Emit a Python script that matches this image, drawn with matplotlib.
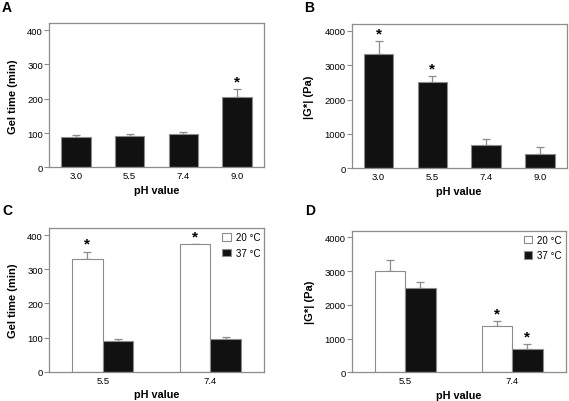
import matplotlib
matplotlib.use("Agg")
import matplotlib.pyplot as plt
from matplotlib.patches import Patch
import numpy as np

plt.rcParams['font.family'] = ['Liberation Sans', 'DejaVu Sans']

# Data
ph_ab = ["3.0", "5.5", "7.4", "9.0"]
gel_time_a = [87, 90, 96, 206]
gel_time_a_err = [8, 8, 7, 22]
sig_a = [False, False, False, True]

gstar_b = [3320, 2510, 680, 410]
gstar_b_err = [380, 180, 170, 220]
sig_b = [True, True, False, False]

ph_cd = ["5.5", "7.4"]
legend_labels = ["20 °C", "37 °C"]
gel_time_c_20 = [330, 373]
gel_time_c_20_err = [22, 2]
gel_time_c_37 = [90, 96]
gel_time_c_37_err = [7, 7]
sig_c_20 = [True, True]
sig_c_37 = [False, False]

gstar_d_20 = [3000, 1370]
gstar_d_20_err = [330, 140]
gstar_d_37 = [2510, 680]
gstar_d_37_err = [180, 170]
sig_d_20 = [False, True]
sig_d_37 = [False, True]

GREY = "#8c8c8c"
BLACK = "#111111"

fig = plt.figure(figsize=(5.69, 4.02), dpi=100)

def style(ax, ylim, yticks, ylabel, lx):
    for s in ax.spines.values():
        s.set_color(GREY)
        s.set_linewidth(0.9)
    ax.set_ylim(0, ylim)
    ax.set_yticks(yticks)
    ax.tick_params(axis='y', length=3.5, width=0.8, color=GREY, labelsize=6.8, pad=0.8)
    ax.tick_params(axis='x', length=0, labelsize=6.8, pad=3)
    ax.set_ylabel(ylabel, fontsize=8, fontweight='bold')
    ax.yaxis.set_label_coords(lx, 0.5)
    ax.set_xlabel("pH value", fontsize=7.8, fontweight='bold', labelpad=3)

def bars(ax, x, vals, errs, sig, face, w, off):
    ax.bar(x, vals, width=w, color=face, edgecolor=GREY, linewidth=0.8, zorder=2)
    ax.errorbar(x, vals, yerr=[np.zeros(len(vals)), errs], fmt='none',
                ecolor=GREY, elinewidth=0.9, capsize=3.2, capthick=0.9, zorder=1)
    for xi, v, e, s in zip(x, vals, errs, sig):
        if s:
            ax.text(xi, v + e + off, "*", ha='center', va='bottom',
                    fontsize=11, fontweight='bold')

# Panel A
axA = fig.add_axes([0.0861, 0.5813, 0.378, 0.3583])
xa = np.arange(len(ph_ab))
bars(axA, xa, gel_time_a, gel_time_a_err, sig_a, BLACK, 0.55, 2)
axA.set_xlim(-0.5, 3.5)
axA.set_xticks(xa, ph_ab)
style(axA, 420, [0, 100, 200, 300, 400], "Gel time (min)", -0.146)

# Panel B
axB = fig.add_axes([0.618, 0.5789, 0.378, 0.3589])
bars(axB, xa, gstar_b, gstar_b_err, sig_b, BLACK, 0.55, 20)
axB.set_xlim(-0.5, 3.5)
axB.set_xticks(xa, ph_ab)
style(axB, 4200, [0, 1000, 2000, 3000, 4000], "|G*| (Pa)", -0.173)

# Panel C
w = 0.285
axC = fig.add_axes([0.0861, 0.0729, 0.378, 0.3567])
xc = np.arange(len(ph_cd))
bars(axC, xc - w / 2, gel_time_c_20, gel_time_c_20_err, sig_c_20, 'white', w, 2)
bars(axC, xc + w / 2, gel_time_c_37, gel_time_c_37_err, sig_c_37, BLACK, w, 2)
axC.set_xlim(-0.5, 1.5)
axC.set_xticks(xc, ph_cd)
style(axC, 420, [0, 100, 200, 300, 400], "Gel time (min)", -0.146)

# Panel D
axD = fig.add_axes([0.618, 0.0714, 0.376, 0.3522])
bars(axD, xc - w / 2, gstar_d_20, gstar_d_20_err, sig_d_20, 'white', w, 20)
bars(axD, xc + w / 2, gstar_d_37, gstar_d_37_err, sig_d_37, BLACK, w, 20)
axD.set_xlim(-0.5, 1.5)
axD.set_xticks(xc, ph_cd)
style(axD, 4200, [0, 1000, 2000, 3000, 4000], "|G*| (Pa)", -0.173)

for ax in (axC, axD):
    handles = [Patch(facecolor='white', edgecolor=GREY, linewidth=0.8),
               Patch(facecolor=BLACK, edgecolor=GREY, linewidth=0.8)]
    ax.legend(handles, legend_labels, loc='upper right', frameon=False,
              fontsize=7, handlelength=0.9, handleheight=0.8,
              handletextpad=0.5, labelspacing=0.6,
              borderaxespad=0.2, borderpad=0.2)

# Panel letters
for lab, x, y in [("A", 7, 8), ("B", 309, 8), ("C", 7, 211), ("D", 310, 211)]:
    fig.text(x / 569, 1 - y / 402, lab, fontsize=10, fontweight='bold',
             ha='center', va='center')

fig.savefig("out.png", dpi=100)
